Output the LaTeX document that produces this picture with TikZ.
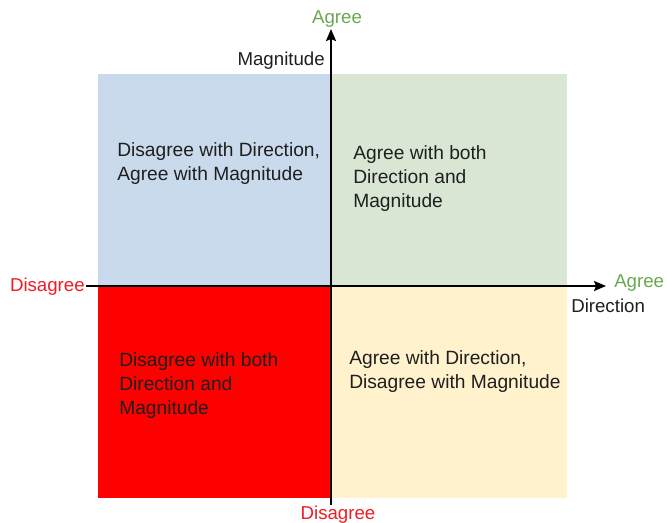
\documentclass[tikz,border=0pt]{standalone}
\usepackage{fontspec}
\setmainfont{Liberation Sans}
\usetikzlibrary{arrows.meta}

\definecolor{qblue}{HTML}{C9DAEC}
\definecolor{qgreen}{HTML}{D9E6D3}
\definecolor{qred}{HTML}{FF0000}
\definecolor{qyellow}{HTML}{FFF2CC}
\definecolor{agreegreen}{HTML}{6AA84F}
\definecolor{disred}{HTML}{EE1C25}
\definecolor{txt}{HTML}{1F1F1F}

\tikzset{
  axis/.style={line width=1.5pt,-{Stealth[length=9pt,width=7.5pt,inset=1.5pt]}},
  lbl/.style={inner sep=0pt,font=\fontsize{14}{18}\selectfont,text=txt},
  quadtext/.style={lbl,font=\fontsize{14.4}{18}\selectfont,align=left,anchor=north west}
}

\begin{document}
\begin{tikzpicture}[x=0.75pt,y=-0.75pt]
\useasboundingbox (0,0) rectangle (667,522);

% quadrants
\foreach \xa/\ya/\xb/\yb/\col in {98/74/331/286/qblue,331/74/567/286/qgreen,98/286/331/498/qred,331/286/567/498/qyellow}
    \fill[\col] (\xa,\ya) rectangle (\xb,\yb);

\node[quadtext] (tl) at (117,142) {Disagree with Direction,\\Agree with Magnitude};
\node[quadtext] (tr) at (353,145) {Agree with both\\Direction and\\Magnitude};
\node[quadtext] (bl) at (119,352) {Disagree with both\\Direction and\\Magnitude};
\node[quadtext] (br) at (349,350) {Agree with Direction,\\Disagree with Magnitude};

% axes
\coordinate (xstart) at (86,286);
\coordinate (xend) at (606,286);
\coordinate (ystart) at (331,505);
\coordinate (yend) at (331,29);
\draw[axis] (xstart) -- (xend);
\draw[axis] (ystart) -- (yend);

% axis labels
\node[lbl,text=disred,anchor=base east] (disleft) at (85,291) {Disagree};
\node[lbl,text=agreegreen,anchor=base west] (agreeright) at (614,287) {Agree};
\node[lbl,anchor=base west] (direction) at (571,312) {Direction};
\node[lbl,text=agreegreen,anchor=base] (agreetop) at (337,23) {Agree};
\node[lbl,anchor=base east] (magnitude) at (325,65) {Magnitude};
\node[lbl,text=disred,anchor=base] (disbottom) at (338,519) {Disagree};
\end{tikzpicture}
\end{document}
